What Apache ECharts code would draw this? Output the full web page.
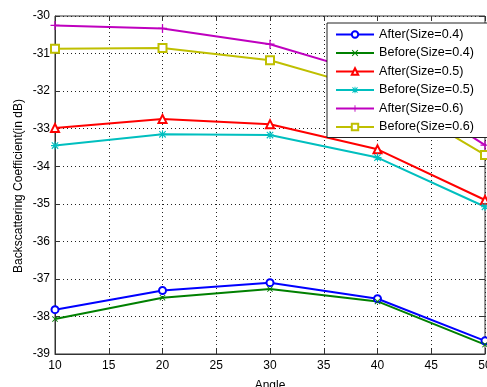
<!DOCTYPE html>
<html>
<head>
<meta charset="utf-8">
<script src="https://cdn.jsdelivr.net/npm/echarts@6/dist/echarts.min.js"></script>
<style>
  html, body { margin: 0; padding: 0; background: #fff; }
  #chart { width: 487px; height: 387px; }
</style>
</head>
<body>
<div id="chart"></div>
<script>
// angles on the x axis
let angles = [10, 20, 30, 40, 50];

// backscattering coefficient (dB) per series
let after04 = [-37.82, -37.31, -37.10, -37.53, -38.65];
let before04 = [-38.07, -37.50, -37.27, -37.60, -38.75];
let after05 = [-32.98, -32.74, -32.88, -33.55, -34.90];
let before05 = [-33.45, -33.15, -33.17, -33.77, -35.08];
let after06 = [-30.25, -30.33, -30.75, -31.60, -33.44];
let before06 = [-30.87, -30.85, -31.18, -32.00, -33.70];

let seriesNames = ['After(Size=0.4)', 'Before(Size=0.4)', 'After(Size=0.5)',
  'Before(Size=0.5)', 'After(Size=0.6)', 'Before(Size=0.6)'];

// marker shapes, roughly like matlab's o, x, ^, *, +, s
let plusPath = 'path://M4.3,0H5.7V10H4.3Z M0,4.3H10V5.7H0Z';
let crossPath = 'path://M1,0L5,4L9,0L10,1L6,5L10,9L9,10L5,6L1,10L0,9L4,5L0,1Z';
let starPath = 'path://M4.3,0H5.7V4.3H10V5.7H5.7V10H4.3V5.7H0V4.3H4.3Z M1.5,0.5L5,4L8.5,0.5L9.5,1.5L6,5L9.5,8.5L8.5,9.5L5,6L1.5,9.5L0.5,8.5L4,5L0.5,1.5Z';

let chart = echarts.init(document.getElementById('chart'));

function makeSeries(name, values, color, symbol, size, filled) {
  return {
    name: name,
    type: 'line',
    data: angles.map(function (a, i) { return [a, values[i]]; }),
    symbol: symbol,
    symbolSize: size,
    showAllSymbol: true,
    lineStyle: { color: color, width: 2 },
    itemStyle: filled
      ? { color: color, borderWidth: 0 }
      : { color: color, borderColor: color, borderWidth: 1.2 },
    emphasis: { disabled: true },
    animation: false
  };
}

let font = 'Liberation Sans, Arial, sans-serif';

let option = {
  animation: false,
  textStyle: { fontFamily: font },
  grid: {
    left: 55, right: 2, top: 16, bottom: 33,
    outerBoundsMode: 'none',
    containLabel: false,
    show: true, borderColor: '#333', borderWidth: 1, backgroundColor: '#fff'
  },
  // y axis title, placed by hand so it sits where the original one is
  graphic: [{
    type: 'text',
    x: 19,
    y: 186,
    rotation: Math.PI / 2,
    style: {
      text: 'Backscattering Coefficient(in dB)',
      fontFamily: font,
      fontSize: 12,
      fill: '#000',
      align: 'center',
      verticalAlign: 'middle'
    }
  }],
  legend: {
    data: seriesNames,
    orient: 'vertical',
    left: 327,
    top: 23,
    padding: [5, 20, 4, 8],
    itemWidth: 38,
    itemHeight: 8,
    itemGap: 5.5,
    backgroundColor: '#fff',
    borderColor: '#222',
    borderWidth: 1,
    borderRadius: 0,
    textStyle: { fontFamily: font, fontSize: 12.6, color: '#000' }
  },
  xAxis: [{
    type: 'value',
    min: 10, max: 50, interval: 5,
    name: 'Angle',
    nameLocation: 'middle',
    nameGap: 26,
    nameTextStyle: { fontFamily: font, fontSize: 12, color: '#000' },
    axisLine: { show: true, lineStyle: { color: '#333' } },
    axisTick: { inside: true, length: 5, lineStyle: { color: '#333' } },
    axisLabel: { color: '#000', fontSize: 12, margin: 6, fontFamily: font },
    splitLine: { show: true, lineStyle: { color: '#222', type: [1, 3], width: 1 } }
  }, {
    type: 'value',
    position: 'top',
    min: 10, max: 50, interval: 5,
    axisLine: { show: false },
    axisTick: { inside: true, length: 5, lineStyle: { color: '#333' } },
    axisLabel: { show: false },
    splitLine: { show: false }
  }],
  yAxis: [{
    type: 'value',
    min: -39, max: -30, interval: 1,
    axisLine: { show: true, lineStyle: { color: '#333' } },
    axisTick: { inside: true, length: 5, lineStyle: { color: '#333' } },
    axisLabel: { color: '#000', fontSize: 12, margin: 5, fontFamily: font },
    splitLine: { show: true, lineStyle: { color: '#222', type: [1, 3], width: 1 } }
  }, {
    type: 'value',
    position: 'right',
    min: -39, max: -30, interval: 1,
    axisLine: { show: false },
    axisTick: { inside: true, length: 5, lineStyle: { color: '#333' } },
    axisLabel: { show: false },
    splitLine: { show: false }
  }],
  series: [
    makeSeries(seriesNames[0], after04, '#0000ff', 'emptyCircle', 7, false),
    makeSeries(seriesNames[1], before04, '#008000', crossPath, 6, true),
    makeSeries(seriesNames[2], after05, '#ff0000', 'emptyTriangle', 8, false),
    makeSeries(seriesNames[3], before05, '#00bfbf', starPath, 8, true),
    makeSeries(seriesNames[4], after06, '#bf00bf', plusPath, 9, true),
    makeSeries(seriesNames[5], before06, '#bfbf00', 'emptyRect', 8, false)
  ]
};

chart.setOption(option);
</script>
</body>
</html>
